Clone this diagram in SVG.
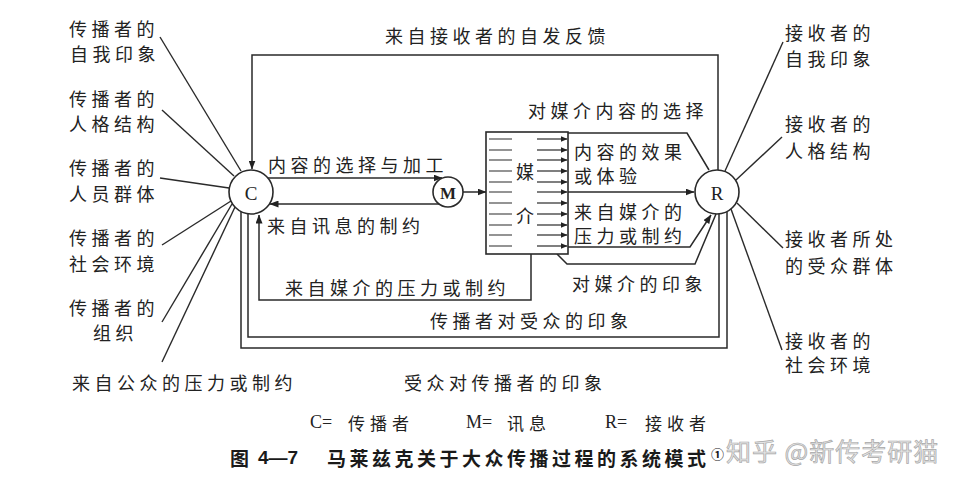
<svg xmlns="http://www.w3.org/2000/svg" width="956" height="492" viewBox="0 0 956 492">
<defs>
<style>
.t{font-family:"Noto Sans CJK SC","Noto Sans",sans-serif;font-size:18px;letter-spacing:4.5px;fill:#222;dominant-baseline:central}
.c{font-family:"Noto Sans CJK SC",sans-serif;font-size:18px;fill:#222;dominant-baseline:central;text-anchor:middle}
.lt{font-family:"Liberation Serif",serif;font-size:19px;fill:#222;dominant-baseline:central;text-anchor:middle}
.lg{font-family:"Liberation Serif",serif;font-size:18px;fill:#222;dominant-baseline:central}
.lgc{font-family:"Noto Sans CJK SC",sans-serif;font-size:17px;letter-spacing:5px;fill:#222;dominant-baseline:central}
.cap{font-family:"Noto Sans CJK SC",sans-serif;font-size:19px;font-weight:bold;letter-spacing:3.5px;fill:#1a1a1a;dominant-baseline:central}
.ln{fill:none;stroke:#2a2a2a;stroke-width:1.5}
.sp{fill:none;stroke:#2a2a2a;stroke-width:1.4}
.rw{fill:none;stroke:#2a2a2a;stroke-width:1.2}
.nd{fill:#fff;stroke:#2a2a2a;stroke-width:1.6}
.wm{font-family:"Noto Sans CJK SC",sans-serif;font-size:25px;letter-spacing:1px;fill:#e4e4e4;stroke:#a8a8a8;stroke-width:0.7;dominant-baseline:central}
</style>
<marker id="ah" markerWidth="9" markerHeight="7" refX="8.5" refY="3.5" orient="auto" markerUnits="userSpaceOnUse"><path d="M0,0 L9,3.5 L0,7 z" fill="#222"/></marker>
<marker id="as" markerWidth="7" markerHeight="6" refX="6.5" refY="3" orient="auto" markerUnits="userSpaceOnUse"><path d="M0,0 L7,3 L0,6 z" fill="#222"/></marker>
</defs>
<rect x="0" y="0" width="956" height="492" fill="#fff"/>

<g id="connectors">
  <path class="ln" d="M718,170 L718,55 L252,55 L252,169" marker-end="url(#ah)"/>
  <path class="ln" d="M267,178 L442,178" marker-end="url(#ah)"/>
  <path class="ln" d="M452,204 L270,204" marker-end="url(#ah)"/>
  <path class="ln" d="M463,192 L486,192" marker-end="url(#ah)"/>
  <path class="ln" d="M568,192 L694,192" marker-end="url(#ah)"/>
  <path class="ln" d="M568,133 L687,133 L709,170"/>
  <path class="ln" d="M568,247 L690,247 L711,215" marker-end="url(#ah)"/>
  <path class="ln" d="M557,254 L567,264 L695,264 L716,214"/>
  <path class="ln" d="M531,254 L531,300 L259,300 L259,215" marker-end="url(#ah)"/>
  <path class="ln" d="M248,214 L248,337 L719,337 L719,214"/>
  <path class="ln" d="M241,212 L241,348 L727,348 L727,212"/>
  <path class="sp" d="M160,37 L241,171"/>
  <path class="sp" d="M162,110 L234,176"/>
  <path class="sp" d="M160,178 L229,188"/>
  <path class="sp" d="M162,245 L231,201"/>
  <path class="sp" d="M162,322 L232,204"/>
  <path class="sp" d="M162,362 L235,207"/>
  <path class="sp" d="M783,42 L725,171"/>
  <path class="sp" d="M782,137 L736,180"/>
  <path class="sp" d="M783,248 L737,203"/>
  <path class="sp" d="M782,350 L731,209"/>
</g>

<g id="node-media">
  <rect x="486" y="132" width="82" height="122" fill="#fff" stroke="#2a2a2a" stroke-width="1.6"/>
  <g class="rw">
    <path d="M489,139 H512 M489,150 H512 M489,160 H512 M489,171 H512 M489,182 H512 M489,192 H512 M489,203 H512 M489,214 H512 M489,225 H512 M489,235 H512 M489,246 H512"/>
  </g>
  <g class="rw" marker-end="url(#as)">
    <path d="M537,139 H567"/><path d="M537,150 H567"/><path d="M537,160 H567"/><path d="M537,171 H567"/><path d="M537,182 H567"/><path d="M537,192 H567"/><path d="M537,203 H567"/><path d="M537,214 H567"/><path d="M537,225 H567"/><path d="M537,235 H567"/><path d="M537,246 H567"/>
  </g>
  <rect x="515" y="161" width="20" height="20" fill="#fff"/>
  <rect x="515" y="205" width="20" height="20" fill="#fff"/>
  <text class="c" x="525" y="171">媒</text>
  <text class="c" x="525" y="215">介</text>
</g>

<g id="node-C">
  <circle class="nd" cx="251" cy="192" r="22"/>
  <text class="lt" x="251" y="193">C</text>
</g>
<g id="node-M">
  <circle class="nd" cx="448" cy="192" r="15"/>
  <text class="lt" x="448" y="193" style="font-size:17px;font-weight:bold">M</text>
</g>
<g id="node-R">
  <circle class="nd" cx="717" cy="192" r="22"/>
  <text class="lt" x="717" y="193">R</text>
</g>

<g id="labels-left">
  <text class="t" x="69" y="28">传播者的</text>
  <text class="t" x="70" y="53">自我印象</text>
  <text class="t" x="69" y="98">传播者的</text>
  <text class="t" x="69" y="123">人格结构</text>
  <text class="t" x="69" y="167">传播者的</text>
  <text class="t" x="69" y="193">人员群体</text>
  <text class="t" x="69" y="237">传播者的</text>
  <text class="t" x="69" y="263">社会环境</text>
  <text class="t" x="69" y="307">传播者的</text>
  <text class="t" x="93" y="332">组织</text>
  <text class="t" x="72" y="382">来自公众的压力或制约</text>
</g>

<g id="labels-right">
  <text class="t" x="785" y="32">接收者的</text>
  <text class="t" x="785" y="58">自我印象</text>
  <text class="t" x="785" y="123">接收者的</text>
  <text class="t" x="785" y="150">人格结构</text>
  <text class="t" x="785" y="238">接收者所处</text>
  <text class="t" x="785" y="265">的受众群体</text>
  <text class="t" x="785" y="340">接收者的</text>
  <text class="t" x="785" y="364">社会环境</text>
</g>

<g id="labels-flow">
  <text class="t" x="385" y="35">来自接收者的自发反馈</text>
  <text class="t" x="528" y="110">对媒介内容的选择</text>
  <text class="t" x="268" y="164">内容的选择与加工</text>
  <text class="t" x="267" y="225">来自讯息的制约</text>
  <text class="t" x="574" y="151">内容的效果</text>
  <text class="t" x="574" y="175">或体验</text>
  <text class="t" x="574" y="211">来自媒介的</text>
  <text class="t" x="574" y="235">压力或制约</text>
  <text class="t" x="572" y="283">对媒介的印象</text>
  <text class="t" x="285" y="287">来自媒介的压力或制约</text>
  <text class="t" x="430" y="320">传播者对受众的印象</text>
  <text class="t" x="404" y="382">受众对传播者的印象</text>
</g>

<g id="legend">
  <text class="lg" x="310" y="422">C=</text>
  <text class="lgc" x="348" y="422">传播者</text>
  <text class="lg" x="466" y="422">M=</text>
  <text class="lgc" x="507" y="422">讯息</text>
  <text class="lg" x="605" y="422">R=</text>
  <text class="lgc" x="645" y="422">接收者</text>
</g>

<g id="caption">
  <text class="cap" x="230" y="457" style="letter-spacing:0">图</text>
  <text class="cap" x="258" y="457" style="font-family:'Liberation Sans',sans-serif;letter-spacing:0">4—7</text>
  <text class="cap" x="327" y="457">马莱兹克关于大众传播过程的系统模式</text>
  <text class="cap" x="711" y="453" style="font-size:13px;letter-spacing:0">①</text>
</g>

<g id="watermark">
  <text class="wm" x="726" y="450">知乎 @新传考研猫</text>
</g>
</svg>
